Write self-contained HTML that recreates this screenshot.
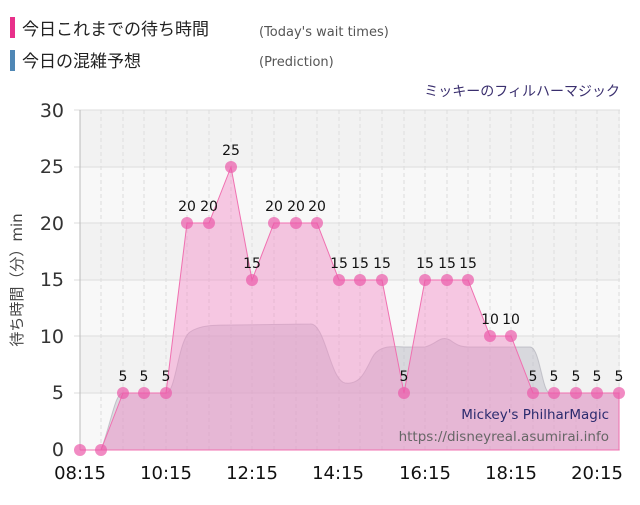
<!DOCTYPE html>
<html><head><meta charset="utf-8"><style>
body{margin:0;background:#fff;width:640px;height:500px;overflow:hidden}
</style></head><body>
<svg width="640" height="500" viewBox="0 0 640 500" xmlns="http://www.w3.org/2000/svg" font-family="DejaVu Sans, Noto Sans CJK JP, sans-serif">
<rect x="10" y="17" width="5" height="21" fill="#e8308a"/>
<rect x="10" y="50" width="5" height="21" fill="#4f87b5"/>
<text x="22" y="35" font-size="17" fill="#222" font-family="Noto Sans CJK JP, sans-serif">今日これまでの待ち時間</text>
<text x="22" y="67" font-size="17" fill="#222" font-family="Noto Sans CJK JP, sans-serif">今日の混雑予想</text>
<text x="259" y="36" font-size="13" fill="#555">(Today's wait times)</text>
<text x="259" y="66" font-size="13" fill="#555">(Prediction)</text>
<text x="620" y="96" font-size="14" fill="#3a2f6e" text-anchor="end" font-family="Noto Sans CJK JP, sans-serif">ミッキーのフィルハーマジック</text>
<rect x="80" y="110" width="540" height="57" fill="#f2f2f2"/>
<rect x="80" y="167" width="540" height="56" fill="#f8f8f8"/>
<rect x="80" y="223" width="540" height="57" fill="#f2f2f2"/>
<rect x="80" y="280" width="540" height="56" fill="#f8f8f8"/>
<rect x="80" y="336" width="540" height="57" fill="#f2f2f2"/>
<rect x="80" y="393" width="540" height="57" fill="#f8f8f8"/>
<g stroke="#ddd" stroke-dasharray="4,3">
<path d="M101 110V450M123 110V450M144 110V450M166 110V450M187 110V450M209 110V450M231 110V450M252 110V450M274 110V450M296 110V450M317 110V450M339 110V450M360 110V450M382 110V450M404 110V450M425 110V450M447 110V450M468 110V450M490 110V450M511 110V450M533 110V450M554 110V450M576 110V450M597 110V450M619 110V450"/>
</g>
<g stroke="#ddd"><path d="M74 110H620M74 167H620M74 223H620M74 280H620M74 336H620M74 393H620"/></g>
<line x1="80" y1="110" x2="80" y2="450" stroke="#bbb"/>
<line x1="80" y1="450" x2="620" y2="450" stroke="#ddd"/>
<path d="M101 450 C112 420,115 393,123 393 L166 393 C176 393,178 340,190 332 C200 325,215 325,231 325 L310 324 C325 322,330 380,345 383 C360 385,365 372,372 358 C378 346,390 346,404 347 L425 347 C437 344,440 335,450 340 C458 346,462 347,470 347 L530 347 C540 347,542 393,550 393 L619 393 L619 450 Z" fill="rgba(190,190,200,0.5)" stroke="rgba(170,170,180,0.6)"/>
<path d="M80 450 L101 450 L123 393 L144 393 L166 393 L187 223 L209 223 L231 167 L252 280 L274 223 L296 223 L317 223 L339 280 L360 280 L382 280 L404 393 L425 280 L447 280 L468 280 L490 336 L511 336 L533 393 L554 393 L576 393 L597 393 L619 393 L619 450 Z" fill="rgba(245,140,200,0.45)" stroke="#f070b0" stroke-width="1"/>
<g fill="rgba(235,90,170,0.7)">
<circle cx="80" cy="450" r="6"/><circle cx="101" cy="450" r="6"/><circle cx="123" cy="393" r="6"/><circle cx="144" cy="393" r="6"/><circle cx="166" cy="393" r="6"/><circle cx="187" cy="223" r="6"/><circle cx="209" cy="223" r="6"/><circle cx="231" cy="167" r="6"/><circle cx="252" cy="280" r="6"/><circle cx="274" cy="223" r="6"/><circle cx="296" cy="223" r="6"/><circle cx="317" cy="223" r="6"/><circle cx="339" cy="280" r="6"/><circle cx="360" cy="280" r="6"/><circle cx="382" cy="280" r="6"/><circle cx="404" cy="393" r="6"/><circle cx="425" cy="280" r="6"/><circle cx="447" cy="280" r="6"/><circle cx="468" cy="280" r="6"/><circle cx="490" cy="336" r="6"/><circle cx="511" cy="336" r="6"/><circle cx="533" cy="393" r="6"/><circle cx="554" cy="393" r="6"/><circle cx="576" cy="393" r="6"/><circle cx="597" cy="393" r="6"/><circle cx="619" cy="393" r="6"/>
</g>
<g font-size="14" fill="#111" text-anchor="middle">
<text x="123" y="381">5</text><text x="144" y="381">5</text><text x="166" y="381">5</text><text x="187" y="211">20</text><text x="209" y="211">20</text><text x="231" y="155">25</text><text x="252" y="268">15</text><text x="274" y="211">20</text><text x="296" y="211">20</text><text x="317" y="211">20</text><text x="339" y="268">15</text><text x="360" y="268">15</text><text x="382" y="268">15</text><text x="404" y="381">5</text><text x="425" y="268">15</text><text x="447" y="268">15</text><text x="468" y="268">15</text><text x="490" y="324">10</text><text x="511" y="324">10</text><text x="533" y="381">5</text><text x="554" y="381">5</text><text x="576" y="381">5</text><text x="597" y="381">5</text><text x="619" y="381">5</text>
</g>
<text x="609" y="419" font-size="13.5" fill="#2b2b6e" text-anchor="end">Mickey's PhilharMagic</text>
<text x="609" y="441" font-size="13.5" fill="#666" text-anchor="end">https://disneyreal.asumirai.info</text>
<g font-size="19" fill="#333" text-anchor="end">
<text x="64" y="117">30</text><text x="64" y="173">25</text><text x="64" y="230">20</text><text x="64" y="286">15</text><text x="64" y="343">10</text><text x="64" y="399">5</text><text x="64" y="456">0</text>
</g>
<g font-size="18" fill="#111" text-anchor="middle">
<text x="80" y="479">08:15</text><text x="166" y="479">10:15</text><text x="252" y="479">12:15</text><text x="338" y="479">14:15</text><text x="425" y="479">16:15</text><text x="511" y="479">18:15</text><text x="597" y="479">20:15</text>
</g>
<text transform="translate(22,280) rotate(-90)" font-size="15" fill="#444" text-anchor="middle">待ち時間（分）min</text>
</svg>
</body></html>
